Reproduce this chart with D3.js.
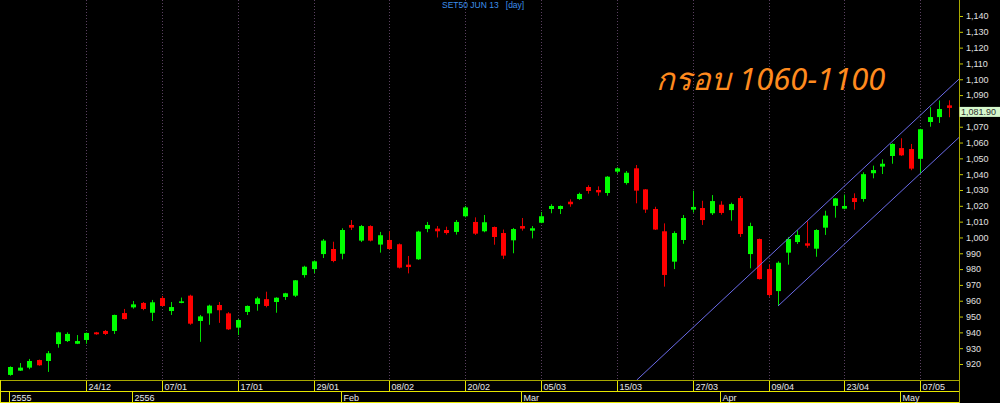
<!DOCTYPE html>
<html>
<head>
<meta charset="utf-8">
<script src="https://cdn.jsdelivr.net/npm/d3@7"></script>
<style>
  body { margin: 0; background: #000; }
  svg { display: block; }
  text { font-family: 'Liberation Sans', Arial, sans-serif; }
</style>
</head>
<body>
<div class="chart"></div>
<script>
// SET50 JUN 13 daily candles

var dates = [
  '2012-12-12','2012-12-13','2012-12-14','2012-12-17','2012-12-18','2012-12-19','2012-12-20','2012-12-21','2012-12-24','2012-12-25',
  '2012-12-26','2012-12-27','2012-12-28','2013-01-02','2013-01-03','2013-01-04','2013-01-07','2013-01-08','2013-01-09','2013-01-10',
  '2013-01-11','2013-01-14','2013-01-15','2013-01-16','2013-01-17','2013-01-18','2013-01-21','2013-01-22','2013-01-23','2013-01-24',
  '2013-01-25','2013-01-28','2013-01-29','2013-01-30','2013-01-31','2013-02-01','2013-02-04','2013-02-05','2013-02-06','2013-02-07',
  '2013-02-08','2013-02-11','2013-02-12','2013-02-13','2013-02-14','2013-02-15','2013-02-18','2013-02-19','2013-02-20','2013-02-21',
  '2013-02-22','2013-02-26','2013-02-27','2013-02-28','2013-03-01','2013-03-04','2013-03-05','2013-03-06','2013-03-07','2013-03-08',
  '2013-03-11','2013-03-12','2013-03-13','2013-03-14','2013-03-15','2013-03-18','2013-03-19','2013-03-20','2013-03-21','2013-03-22',
  '2013-03-25','2013-03-26','2013-03-27','2013-03-28','2013-03-29','2013-04-01','2013-04-02','2013-04-03','2013-04-04','2013-04-05',
  '2013-04-09','2013-04-10','2013-04-11','2013-04-12','2013-04-17','2013-04-18','2013-04-19','2013-04-22','2013-04-23','2013-04-24',
  '2013-04-25','2013-04-26','2013-04-29','2013-04-30','2013-05-02','2013-05-03','2013-05-07','2013-05-08','2013-05-09','2013-05-10'
];

var opens = [
  913.1, 915.8, 917.7, 922.5, 921.9, 932.6, 934.5, 932.8, 935.2, 940.0,
  940.9, 940.9, 952.2, 955.8, 958.6, 952.4, 961.7, 953.5, 958.6, 963.2,
  947.2, 952.0, 957.3, 952.0, 943.0, 952.9, 957.9, 961.0, 959.2, 962.4,
  963.2, 976.2, 980.0, 989.5, 992.7, 989.7, 1007.9, 998.0, 1007.2, 995.5,
  998.4, 995.7, 982.8, 986.2, 1005.4, 1005.6, 1004.7, 1003.5, 1013.4, 1009.8,
  1003.9, 1006.6, 1002.8, 998.2, 1007.2, 1004.3, 1009.3, 1018.0, 1018.0, 1022.6,
  1024.3, 1031.9, 1030.0, 1028.1, 1041.6, 1034.4, 1043.7, 1030.4, 1018.0, 1003.9,
  984.7, 998.4, 1017.6, 1018.6, 1015.3, 1020.7, 1017.3, 1024.9, 989.5, 999.0,
  980.0, 966.1, 990.4, 997.1, 996.3, 992.9, 1006.2, 1020.0, 1018.2, 1024.9,
  1024.3, 1040.6, 1044.8, 1051.5, 1056.5, 1055.9, 1049.7, 1073.0, 1076.1, 1083.5
];
var highs = [
  918.5, 920.6, 923.2, 922.8, 928.2, 940.4, 940.0, 938.3, 939.9, 940.3,
  941.5, 951.2, 954.8, 959.8, 959.2, 960.5, 963.0, 959.2, 962.0, 963.8,
  951.0, 957.5, 959.2, 952.8, 948.4, 957.0, 962.5, 965.7, 962.2, 965.0,
  973.1, 982.1, 985.5, 999.0, 997.3, 1005.8, 1011.0, 1007.9, 1007.7, 1003.5,
  1003.9, 996.2, 988.3, 1004.2, 1009.8, 1007.2, 1006.8, 1011.0, 1019.9, 1012.7,
  1014.2, 1006.9, 1005.0, 1006.0, 1012.3, 1007.2, 1016.1, 1021.0, 1020.2, 1024.1,
  1028.3, 1033.0, 1032.3, 1038.8, 1044.4, 1042.0, 1045.8, 1030.6, 1019.4, 1008.9,
  1003.9, 1014.2, 1029.6, 1023.2, 1026.8, 1022.9, 1022.0, 1026.2, 1009.3, 999.3,
  983.0, 984.9, 1000.3, 1004.5, 1010.2, 1005.2, 1016.9, 1025.0, 1027.1, 1027.9,
  1041.2, 1045.4, 1049.4, 1059.5, 1062.7, 1059.1, 1068.7, 1082.3, 1086.6, 1086.7
];
var lows = [
  912.6, 915.6, 916.7, 918.9, 915.0, 930.3, 933.9, 932.6, 932.8, 938.5,
  938.3, 939.0, 948.1, 955.0, 954.0, 947.2, 956.4, 951.0, 958.4, 944.8,
  934.0, 944.8, 946.0, 941.5, 938.3, 951.0, 953.7, 955.8, 952.4, 960.5,
  962.4, 974.6, 977.5, 987.0, 984.3, 986.2, 1004.7, 997.1, 997.5, 990.4,
  992.3, 980.4, 977.3, 985.8, 1003.3, 1000.0, 1001.8, 1001.8, 1012.7, 1001.6,
  1003.3, 995.4, 986.4, 990.0, 1004.3, 999.4, 1009.0, 1015.3, 1014.8, 1019.4,
  1023.7, 1027.7, 1026.4, 1026.4, 1040.4, 1033.4, 1021.6, 1015.5, 1004.7, 968.9,
  980.0, 996.0, 1015.7, 1007.9, 1014.2, 1014.4, 1010.6, 1000.3, 980.5, 973.4,
  962.5, 956.7, 982.8, 995.9, 993.5, 987.8, 1001.6, 1012.5, 1017.8, 1017.6,
  1022.6, 1037.4, 1040.1, 1046.6, 1051.5, 1042.5, 1040.6, 1070.0, 1072.4, 1076.0
];
var closes = [
  918.1, 917.7, 921.9, 919.2, 926.8, 940.0, 939.0, 934.5, 939.6, 938.8,
  939.0, 951.0, 948.4, 957.7, 954.8, 959.0, 956.7, 956.0, 959.6, 945.5,
  950.1, 956.9, 954.0, 941.9, 947.8, 956.7, 961.5, 956.7, 961.9, 964.7,
  972.9, 981.5, 984.9, 998.0, 985.1, 1004.7, 1006.2, 1007.2, 998.0, 1001.4,
  992.7, 980.9, 981.3, 1003.7, 1007.9, 1003.9, 1002.8, 1009.8, 1019.0, 1002.4,
  1009.6, 1000.3, 988.5, 1005.3, 1005.6, 1005.8, 1013.4, 1019.9, 1019.9, 1021.0,
  1027.5, 1029.4, 1028.5, 1038.4, 1043.7, 1040.9, 1029.6, 1017.6, 1005.0, 976.3,
  1002.8, 1012.3, 1019.3, 1011.0, 1023.0, 1015.5, 1021.1, 1002.2, 1007.2, 973.7,
  963.6, 984.0, 999.0, 1001.6, 994.8, 1004.7, 1013.8, 1024.7, 1019.9, 1022.4,
  1040.0, 1042.6, 1046.6, 1059.1, 1051.9, 1043.5, 1068.4, 1076.1, 1081.2, 1081.9
];

var dayTicks = ['2012-12-24','2013-01-07','2013-01-17','2013-01-29','2013-02-08','2013-02-20',
                '2013-03-05','2013-03-15','2013-03-27','2013-04-09','2013-04-23','2013-05-07'];
var periodStarts = ['2012-12-12','2013-01-02','2013-02-01','2013-03-01','2013-04-01','2013-05-02'];
var periodLabels = ['2555','2556','Feb','Mar','Apr','May'];
var priceTicks = d3.range(920, 1141, 10);

// channel lines, [date index, price] end points
var upperChannel = [[66.1, 909.9], [100.1, 1100.2]];
var lowerChannel = [[81, 956.7], [100.1, 1063.3]];

var W = 1000, H = 403;
var plotRight = 959, plotBottom = 380;

var svg = d3.select('.chart').append('svg').attr('width', W).attr('height', H);
svg.append('rect').attr('width', W).attr('height', H).attr('fill', '#000');

var x = d3.scalePoint().domain(dates).range([10.2, 10.2 + 99 * 9.48]);
var xi = d3.scaleLinear().domain([0, 99]).range([10.2, 10.2 + 99 * 9.48]);
var y = d3.scaleLinear().domain([920, 1140]).range([364, 16]);

svg.append('clipPath').attr('id', 'plot')
  .append('rect').attr('width', plotRight).attr('height', plotBottom);

// dotted grid
svg.append('g').selectAll('line').data(dayTicks).join('line')
  .attr('x1', d => Math.round(x(d)) + 0.5).attr('x2', d => Math.round(x(d)) + 0.5)
  .attr('y1', 0).attr('y2', plotBottom)
  .attr('stroke', '#5a4060').attr('stroke-dasharray', '1,2');

// title
svg.append('text').attr('x', 442).attr('y', 8)
  .attr('fill', '#3d8fe8').style('font-size', '8.5px').style('white-space', 'pre')
  .text('SET50 JUN 13\u00a0\u00a0 [day]');

// candles
var candles = dates.map((d, i) => ({date: d, o: opens[i], h: highs[i], l: lows[i], c: closes[i]}));
var cg = svg.append('g');
cg.selectAll('line').data(candles).join('line')
  .attr('x1', d => Math.round(x(d.date)) + 0.5).attr('x2', d => Math.round(x(d.date)) + 0.5)
  .attr('y1', d => y(d.h)).attr('y2', d => y(d.l))
  .attr('stroke', d => d.c >= d.o ? '#00e000' : '#e00000');
cg.selectAll('rect').data(candles).join('rect')
  .attr('x', d => Math.round(x(d.date)) - 2)
  .attr('width', 5)
  .attr('y', d => y(Math.max(d.o, d.c)))
  .attr('height', d => Math.max(1.5, Math.abs(y(d.o) - y(d.c))))
  .attr('fill', d => d.c >= d.o ? '#00ff00' : '#ff0000');

// channel
var chLine = d3.line().x(d => xi(d[0])).y(d => y(d[1]));
svg.append('g').attr('clip-path', 'url(#plot)').selectAll('path')
  .data([upperChannel, lowerChannel]).join('path')
  .attr('d', chLine).attr('fill', 'none')
  .attr('stroke', '#6a6ae8').attr('stroke-width', 1);

// note
svg.append('text').attr('x', 656).attr('y', 90)
  .attr('fill', '#ff8a1e').style('font-size', '31px').style('font-style', 'italic')
  .style('font-family', "Tahoma, 'Noto Sans', 'DejaVu Sans', sans-serif")
  .text('กรอบ 1060-1100');

// last price tag position
var last = closes[closes.length - 1];
var tagTop = y(last) - 1, tagH = 10;

// right price axis (labels hidden under the tag are skipped)
var shownTicks = priceTicks.filter(v => y(v) + 5 < tagTop || y(v) - 5 > tagTop + tagH);
var yAxis = d3.axisRight(y).tickValues(shownTicks).tickFormat(d3.format(',')).tickSize(3).tickPadding(4);
var ya = svg.append('g').attr('transform', `translate(${plotRight},0)`).call(yAxis);
ya.select('.domain').remove();
ya.selectAll('.tick line').attr('stroke', '#c8c800').attr('x1', 1).attr('x2', 4);
ya.selectAll('.tick text').attr('fill', '#e0e0e0').style('font-size', '9px')
  .style('font-family', "'Liberation Sans', Arial, sans-serif");
svg.append('line').attr('x1', plotRight + 0.5).attr('x2', plotRight + 0.5)
  .attr('y1', 0).attr('y2', H).attr('stroke', '#a8a800');

svg.append('rect').attr('x', plotRight + 0.5).attr('y', tagTop)
  .attr('width', W - plotRight).attr('height', tagH).attr('fill', '#d6f8cc');
svg.append('text').attr('x', plotRight + 2).attr('y', tagTop + 8.5)
  .attr('fill', '#303030').style('font-size', '9px')
  .text(d3.format(',.2f')(last));

// date rows
var yellow = '#e6e600';
var rows = svg.append('g');
rows.append('line').attr('x1', 0).attr('x2', plotRight).attr('y1', 380.5).attr('y2', 380.5).attr('stroke', '#a8a800');
rows.append('line').attr('x1', 0).attr('x2', plotRight).attr('y1', 391.5).attr('y2', 391.5).attr('stroke', yellow);
rows.append('line').attr('x1', 0).attr('x2', plotRight).attr('y1', 402.5).attr('y2', 402.5).attr('stroke', yellow);
rows.append('line').attr('x1', 0.5).attr('x2', 0.5).attr('y1', 380).attr('y2', 403).attr('stroke', yellow);

var fmtDay = d3.timeFormat('%d/%m');
var parse = d3.timeParse('%Y-%m-%d');

var dayCell = rows.selectAll('.day').data(dayTicks).join('g').attr('class', 'day')
  .attr('transform', d => `translate(${Math.round(x(d)) + 0.5},0)`);
dayCell.append('line').attr('y1', 381).attr('y2', 391).attr('stroke', yellow);
dayCell.append('text').attr('x', 2).attr('y', 389.5).attr('fill', '#e8e8e8')
  .style('font-size', '9px').text(d => fmtDay(parse(d)));

var perCell = rows.selectAll('.per').data(periodStarts).join('g').attr('class', 'per')
  .attr('transform', d => `translate(${Math.round(x(d)) - 0.5},0)`);
perCell.append('line').attr('y1', 392).attr('y2', 402).attr('stroke', yellow);
perCell.append('text').attr('x', 2).attr('y', 400.5).attr('fill', '#e8e8e8')
  .style('font-size', '9px').text((d, i) => periodLabels[i]);
</script>
</body>
</html>
